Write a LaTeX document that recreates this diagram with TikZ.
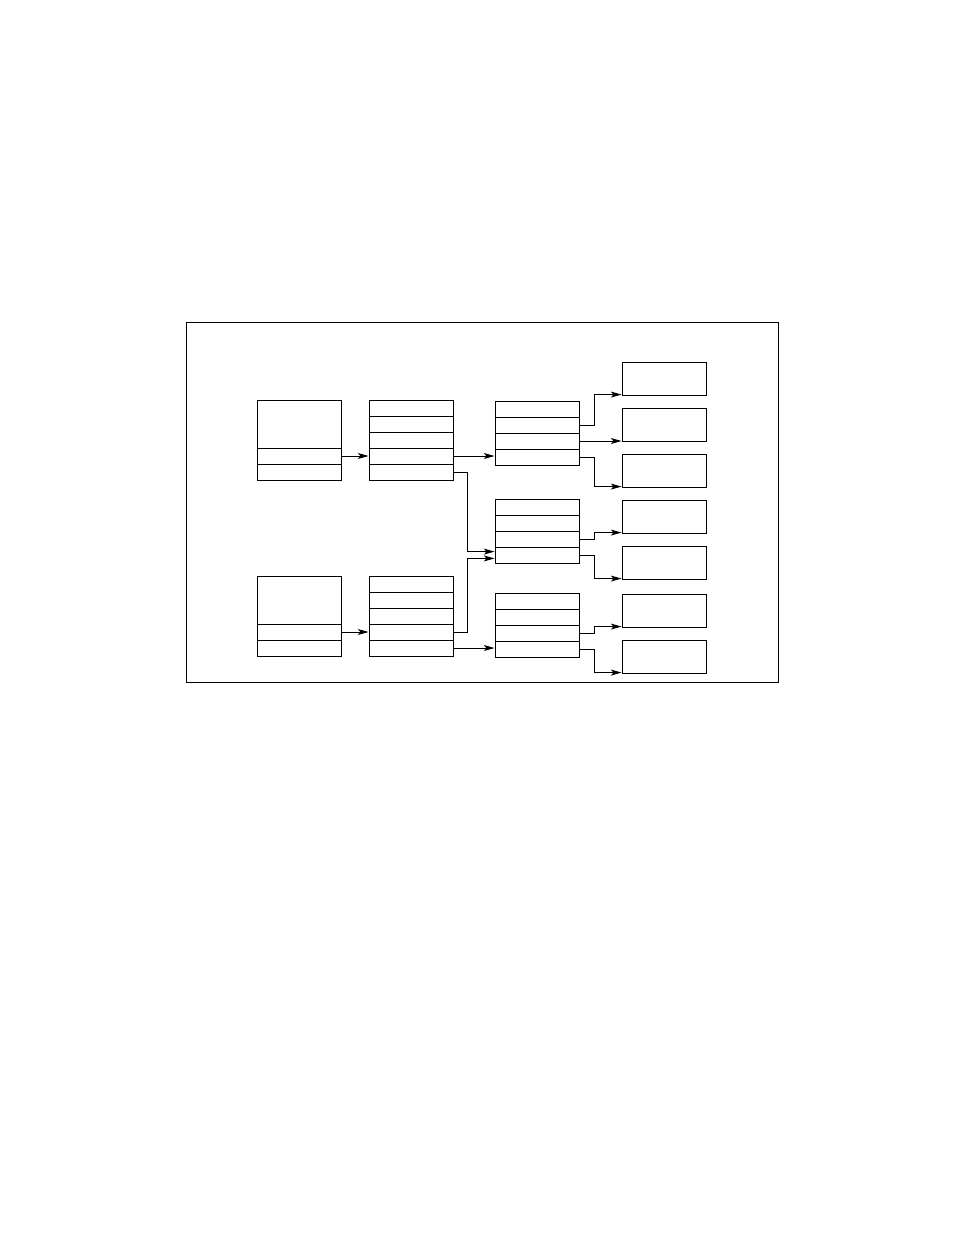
\documentclass[tikz,border=0pt]{standalone}
\usepackage{tikz}
\usetikzlibrary{arrows.meta}
\tikzstyle{frow} = [rectangle, minimum width=53.9pt, minimum height=10.3pt, inner sep=0pt, draw=black]
\tikzstyle{fhead} = [rectangle, minimum width=53.9pt, minimum height=30.8pt, inner sep=0pt, draw=black]
\tikzstyle{fout} = [rectangle, minimum width=53.9pt, minimum height=21.2pt, inner sep=0pt, draw=black]
\begin{document}
\begin{tikzpicture}[x=0.6415pt,y=-0.6415pt,line width=0.6pt,>={Stealth[length=6.8pt,width=3.8pt,inset=1.6pt]}]
    \useasboundingbox (0,0) rectangle (954,1235);
    \draw (186,322) rectangle (778,682);

    % first column
    \node at (299,424) [fhead] (a1top) {};
    \node at (299,456) [frow] (a1r2) {};
    \node at (299,472) [frow] (a1r3) {};
    \node at (299,600) [fhead] (a2top) {};
    \node at (299,632) [frow] (a2r2) {};
    \node at (299,648) [frow] (a2r3) {};

    % second column
    \node at (411,408) [frow] (b1r1) {};
    \node at (411,424) [frow] (b1r2) {};
    \node at (411,440) [frow] (b1r3) {};
    \node at (411,456) [frow] (b1r4) {};
    \node at (411,472) [frow] (b1r5) {};
    \node at (411,584) [frow] (b2r1) {};
    \node at (411,600) [frow] (b2r2) {};
    \node at (411,616) [frow] (b2r3) {};
    \node at (411,632) [frow] (b2r4) {};
    \node at (411,648) [frow] (b2r5) {};

    % third column
    \node at (537,409) [frow] (c1r1) {};
    \node at (537,425) [frow] (c1r2) {};
    \node at (537,441) [frow] (c1r3) {};
    \node at (537,457) [frow] (c1r4) {};
    \node at (537,507) [frow] (c2r1) {};
    \node at (537,523) [frow] (c2r2) {};
    \node at (537,539) [frow] (c2r3) {};
    \node at (537,555) [frow] (c2r4) {};
    \node at (537,601) [frow] (c3r1) {};
    \node at (537,617) [frow] (c3r2) {};
    \node at (537,633) [frow] (c3r3) {};
    \node at (537,649) [frow] (c3r4) {};

    % last column
    \node at (664,378.5) [fout] (d1) {};
    \node at (664,424.5) [fout] (d2) {};
    \node at (664,470.5) [fout] (d3) {};
    \node at (664,516.5) [fout] (d4) {};
    \node at (664,562.5) [fout] (d5) {};
    \node at (664,610.5) [fout] (d6) {};
    \node at (664,656.5) [fout] (d7) {};

    \draw[->] (a1r2) -- (b1r4);
    \draw[->] (a2r2) -- (b2r4);
    \draw[->] (b1r4.east) -- (b1r4.east -| c1r4.west);
    \draw[->] (b2r5.east) -- (b2r5.east -| c3r4.west);
    \draw[->] (b1r5.east) -- ++(9pt,0) |- ([yshift=2.2pt]c2r4.west);
    \draw[->] (b2r4.east) -- ++(9pt,0) |- ([yshift=-2.2pt]c2r4.west);

    \draw[->] (c1r2.east) -- ++(9.6pt,0) |- ([yshift=0.6pt]d1.south west);
    \draw[->] (c1r3.east) -- (c1r3.east -| d2.west);
    \draw[->] (c1r4.east) -- ++(9.6pt,0) |- ([yshift=0.6pt]d3.south west);
    \draw[->] (c2r3.east) -- ++(9.6pt,0) |- ([yshift=0.6pt]d4.south west);
    \draw[->] (c2r4.east) -- ++(9.6pt,0) |- ([yshift=0.6pt]d5.south west);
    \draw[->] (c3r3.east) -- ++(9.6pt,0) |- ([yshift=0.6pt]d6.south west);
    \draw[->] (c3r4.east) -- ++(9.6pt,0) |- ([yshift=0.6pt]d7.south west);
\end{tikzpicture}
\end{document}
